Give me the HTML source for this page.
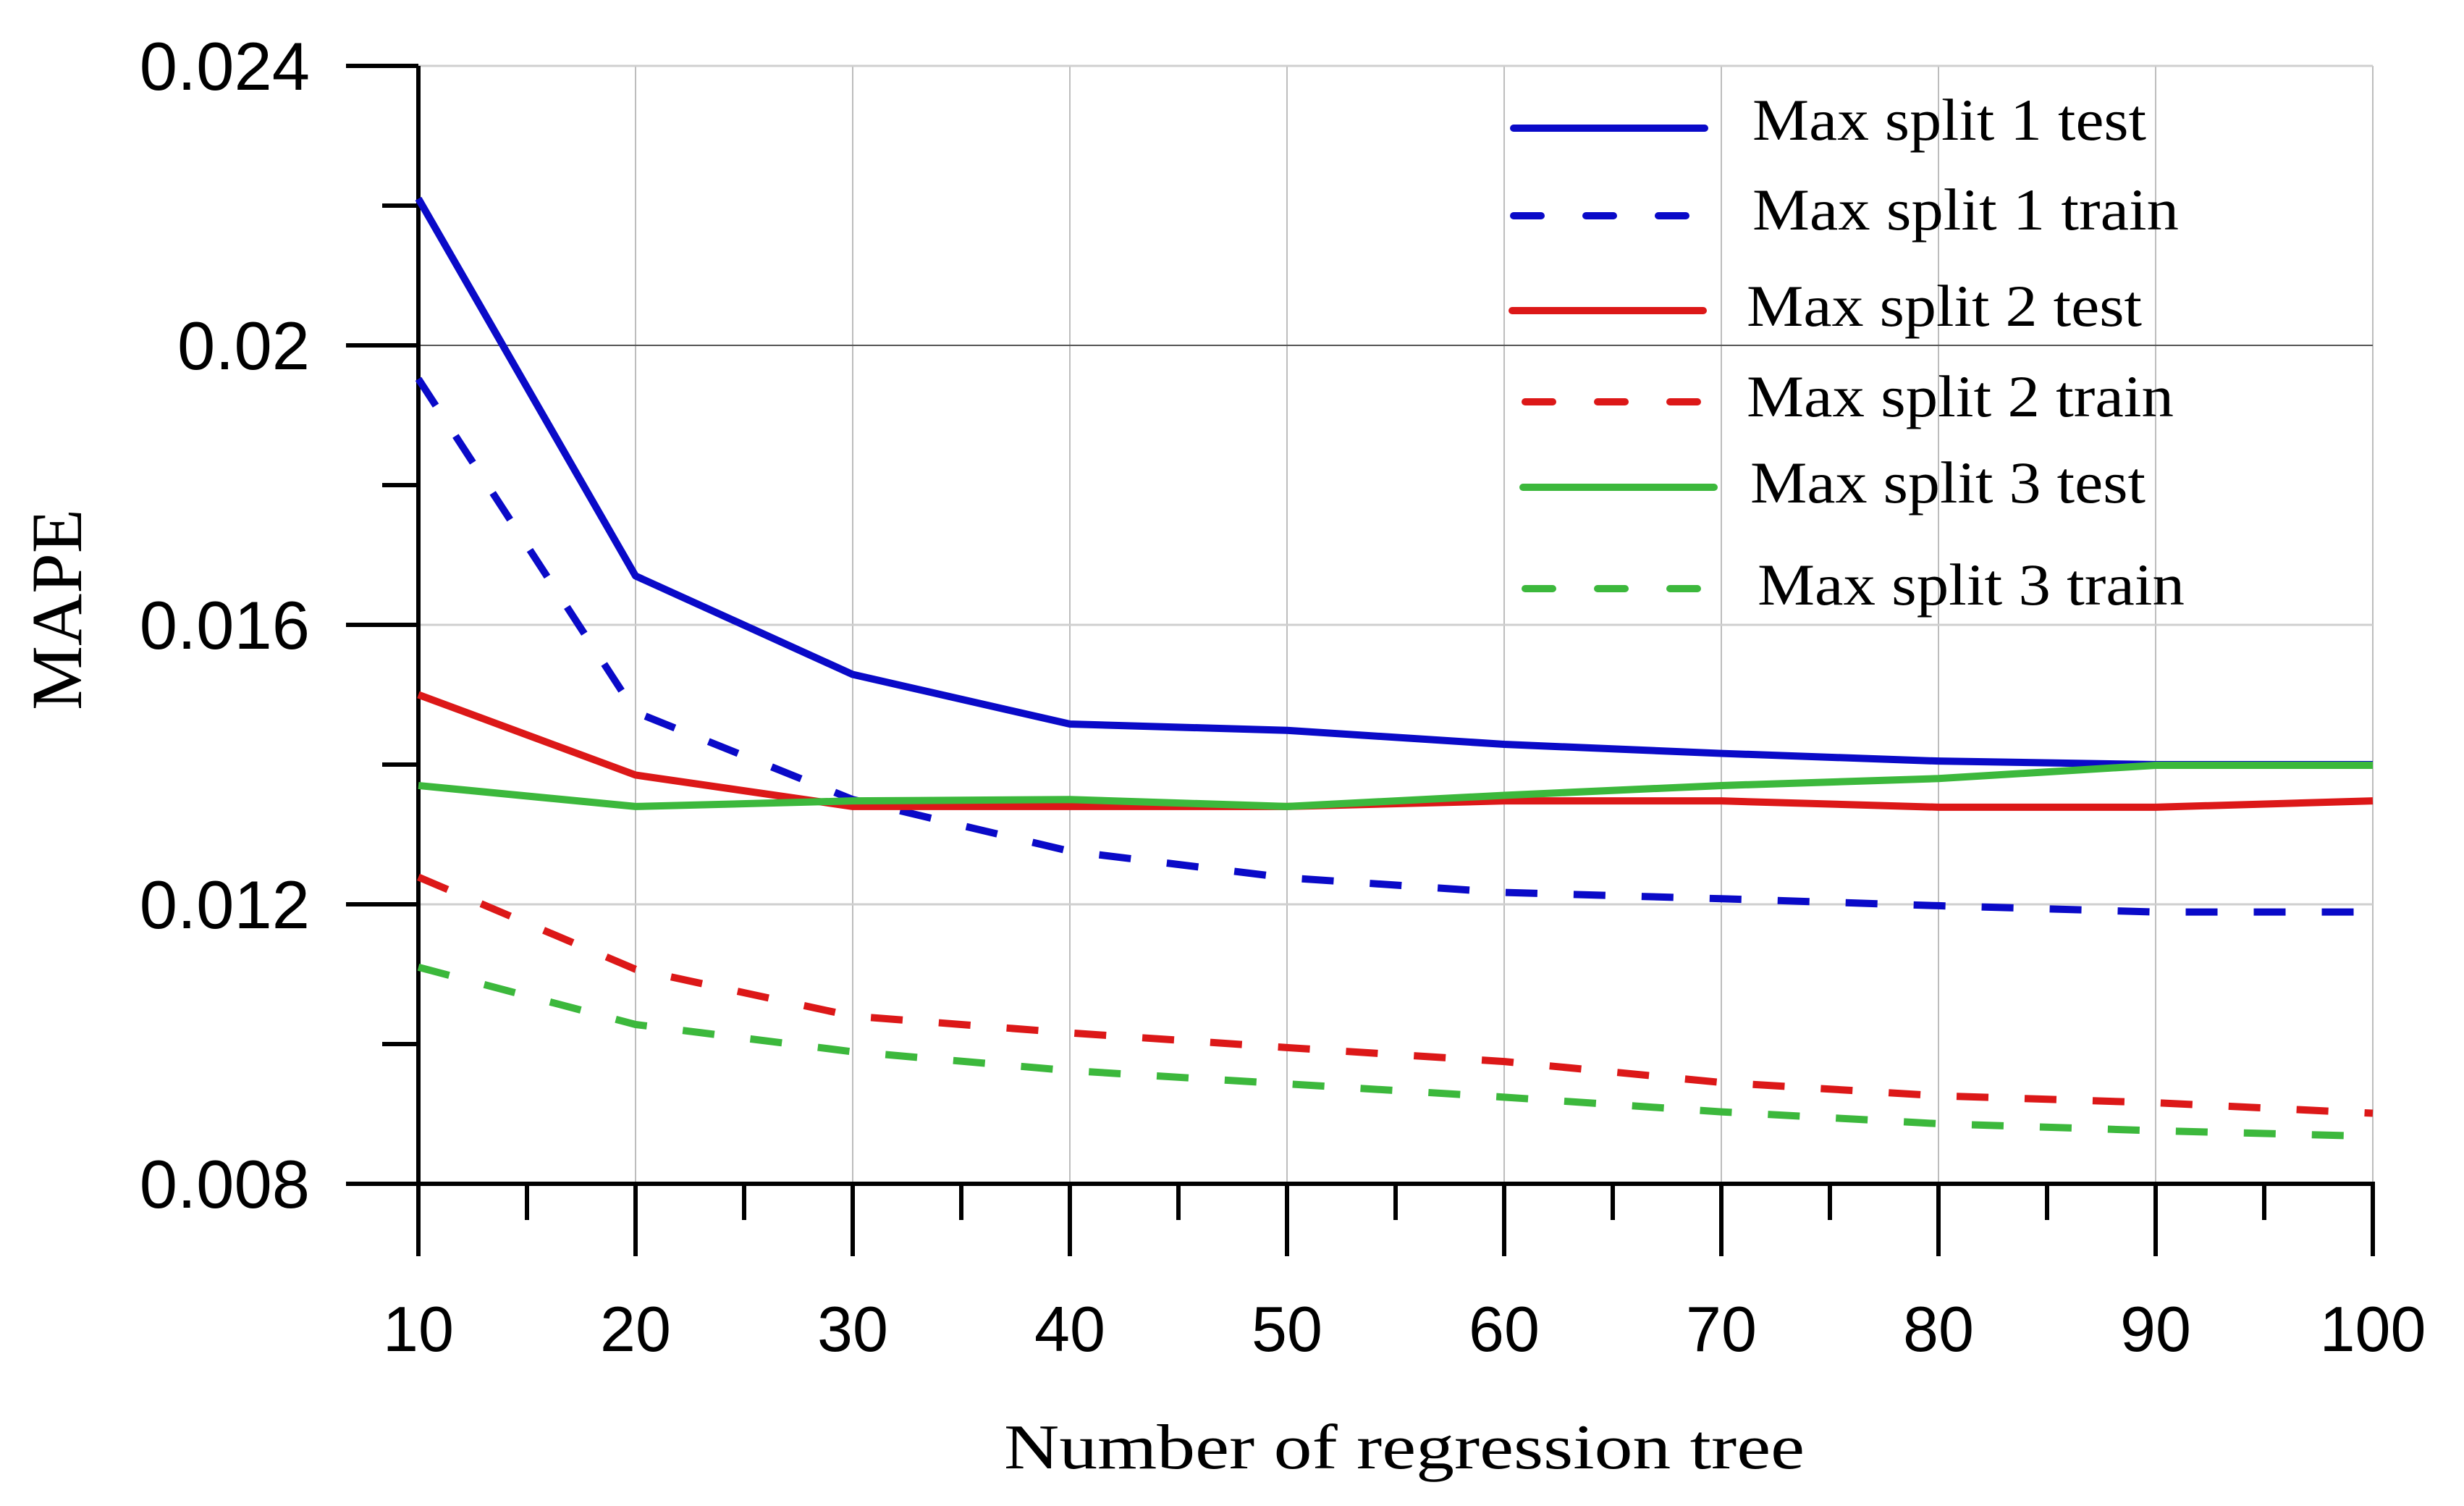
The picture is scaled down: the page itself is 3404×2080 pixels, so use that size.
<!DOCTYPE html>
<html><head><meta charset="utf-8"><style>
html,body{margin:0;padding:0;background:#fff;}
svg{display:block;}
</style></head><body>
<svg id="chart" width="3404" height="2080" viewBox="0 0 3404 2080" xmlns="http://www.w3.org/2000/svg">
<rect x="0" y="0" width="3404" height="2080" fill="#fff"/>
<g id="grid"></g>
<g id="axes"></g>
<g id="series"></g>
<g id="legend"></g>
<text x="0" y="0" transform="translate(112,842) rotate(-90)" text-anchor="middle" font-family="Liberation Serif, serif" font-size="100" fill="#000">MAPE</text>
<text x="1940" y="2028" text-anchor="middle" font-family="Liberation Serif, serif" font-size="88" textLength="1106" lengthAdjust="spacingAndGlyphs" fill="#000">Number of regression tree</text>
</svg>
<script>
const xValues = [10,20,30,40,50,60,70,80,90,100];
const xTickLabels = ["10","20","30","40","50","60","70","80","90","100"];
const yTickValues = [0.008,0.012,0.016,0.020,0.024];
const yTickLabels = ["0.008","0.012","0.016","0.02","0.024"];
const yMinorValues = [0.010,0.014,0.018,0.022];
const split1Test  = [0.0221,0.0167,0.01529,0.01458,0.01449,0.01429,0.01416,0.01405,0.0140,0.0140];
const split1Train = [0.01952,0.01475,0.0135,0.01276,0.01238,0.01217,0.01208,0.01198,0.01189,0.01189];
const split2Test  = [0.0150,0.01385,0.0134,0.0134,0.0134,0.01348,0.01348,0.01339,0.01339,0.01348];
const split2Train = [0.01239,0.01107,0.0104,0.01016,0.00995,0.00975,0.00945,0.00926,0.00916,0.00901];
const split3Test  = [0.0137,0.0134,0.01348,0.0135,0.0134,0.01356,0.0137,0.0138,0.01399,0.01399];
const split3Train = [0.0111,0.01028,0.00989,0.00962,0.00943,0.00924,0.00903,0.00886,0.00876,0.00868];
const legendLabels = ["Max split 1 test","Max split 1 train","Max split 2 test","Max split 2 train","Max split 3 test","Max split 3 train"];

const NS="http://www.w3.org/2000/svg";
const X0=578,X1=3278,Y0=1635,Y1=91;
function xs(v){return X0+(v-10)/90*(X1-X0);}
function ys(v){return Y0-(v-0.008)/0.016*(Y0-Y1);}
function mk(tag,attrs,parent){const e=document.createElementNS(NS,tag);for(const k in attrs)e.setAttribute(k,attrs[k]);parent.appendChild(e);return e;}
const grid=document.getElementById('grid'),axes=document.getElementById('axes'),series=document.getElementById('series'),legend=document.getElementById('legend');

xValues.forEach((v,i)=>{ if(i===0)return;
  const l=mk('line',{x1:xs(v),x2:xs(v),y1:Y1,y2:Y0,stroke:'#bdbdbd','stroke-width':2},grid);
  
  
});
yTickValues.forEach(v=>{ if(v===0.008)return;
  const l=mk('line',{x1:X0,x2:X1,y1:ys(v),y2:ys(v),stroke:(v===0.020?'#555':'#cfcfcf'),'stroke-width':(v===0.020?2:3)},grid);
  
  
});

let a=mk('line',{x1:X0,x2:X0,y1:Y1,y2:1735,stroke:'#000','stroke-width':6},axes);


a=mk('line',{x1:478,x2:X1+3,y1:Y0,y2:Y0,stroke:'#000','stroke-width':6},axes);



yTickValues.forEach((v,i)=>{
  const t=mk('line',{x1:478,x2:X0,y1:ys(v),y2:ys(v),stroke:'#000','stroke-width':6},axes);
  
  
  const tx=mk('text',{x:428,y:ys(v)+33,'text-anchor':'end','font-family':'Liberation Sans, sans-serif','font-size':94,fill:'#000'},axes);
  tx.textContent=yTickLabels[i];
  
  
});
yMinorValues.forEach(v=>{
  const t=mk('line',{x1:528,x2:X0,y1:ys(v),y2:ys(v),stroke:'#000','stroke-width':6},axes);
  
  
});
xValues.forEach((v,i)=>{
  const t=mk('line',{x1:xs(v),x2:xs(v),y1:Y0,y2:1735,stroke:'#000','stroke-width':6},axes);
  
  
  const tx=mk('text',{x:xs(v),y:1866,'text-anchor':'middle','font-family':'Liberation Sans, sans-serif','font-size':88,fill:'#000'},axes);
  tx.textContent=xTickLabels[i];
  
  
  if(i<xValues.length-1){
    const m=mk('line',{x1:xs(v+5),x2:xs(v+5),y1:Y0,y2:1685,stroke:'#000','stroke-width':6},axes);
    
    
  }
});

const defs=[
 {d:split1Test,c:'#0a0ac8',dash:null,n:'series-split1-test'},
 {d:split1Train,c:'#0a0ac8',dash:'44 50',n:'series-split1-train'},
 {d:split2Test,c:'#dc1818',dash:null,n:'series-split2-test'},
 {d:split2Train,c:'#dc1818',dash:'44 50',n:'series-split2-train'},
 {d:split3Test,c:'#3cb83c',dash:null,n:'series-split3-test'},
 {d:split3Train,c:'#3cb83c',dash:'44 50',n:'series-split3-train'}];
const drawOrder=[1,3,5,0,2,4];
drawOrder.forEach(k=>{const s=defs[k];
  const pts=s.d.map((v,i)=>xs(xValues[i])+','+ys(v)).join(' ');
  const p=mk('polyline',{points:pts,fill:'none',stroke:s.c,'stroke-width':10,'stroke-linejoin':'round'},series);
  if(s.dash)p.setAttribute('stroke-dasharray',s.dash);
  
  
});

const legRows=[
 {y:177,x1:2091,x2:2355,tx:2421,bl:193,w:544},
 {y:298,x1:2091,x2:2340,tx:2421,bl:317,w:589},
 {y:429,x1:2089,x2:2353,tx:2413,bl:450,w:546},
 {y:555,x1:2107,x2:2351,tx:2413,bl:575,w:590},
 {y:673,x1:2104,x2:2368,tx:2418,bl:694,w:546},
 {y:813,x1:2107,x2:2351,tx:2428,bl:835,w:590}];
legRows.forEach((r,i)=>{const s=defs[i];
  const g=mk('g',{},legend);
  
  
  const l=mk('line',{x1:r.x1,x2:r.x2,y1:r.y,y2:r.y,stroke:s.c,'stroke-width':10,'stroke-linecap':'round'},g);
  if(s.dash)l.setAttribute('stroke-dasharray','38 62');
  
  
  const t=mk('text',{x:r.tx,y:r.bl,'font-family':'Liberation Serif, serif','font-size':82,fill:'#000',textLength:r.w,lengthAdjust:'spacingAndGlyphs'},g);
  t.textContent=legendLabels[i];
  
  
});
</script>
</body></html>
